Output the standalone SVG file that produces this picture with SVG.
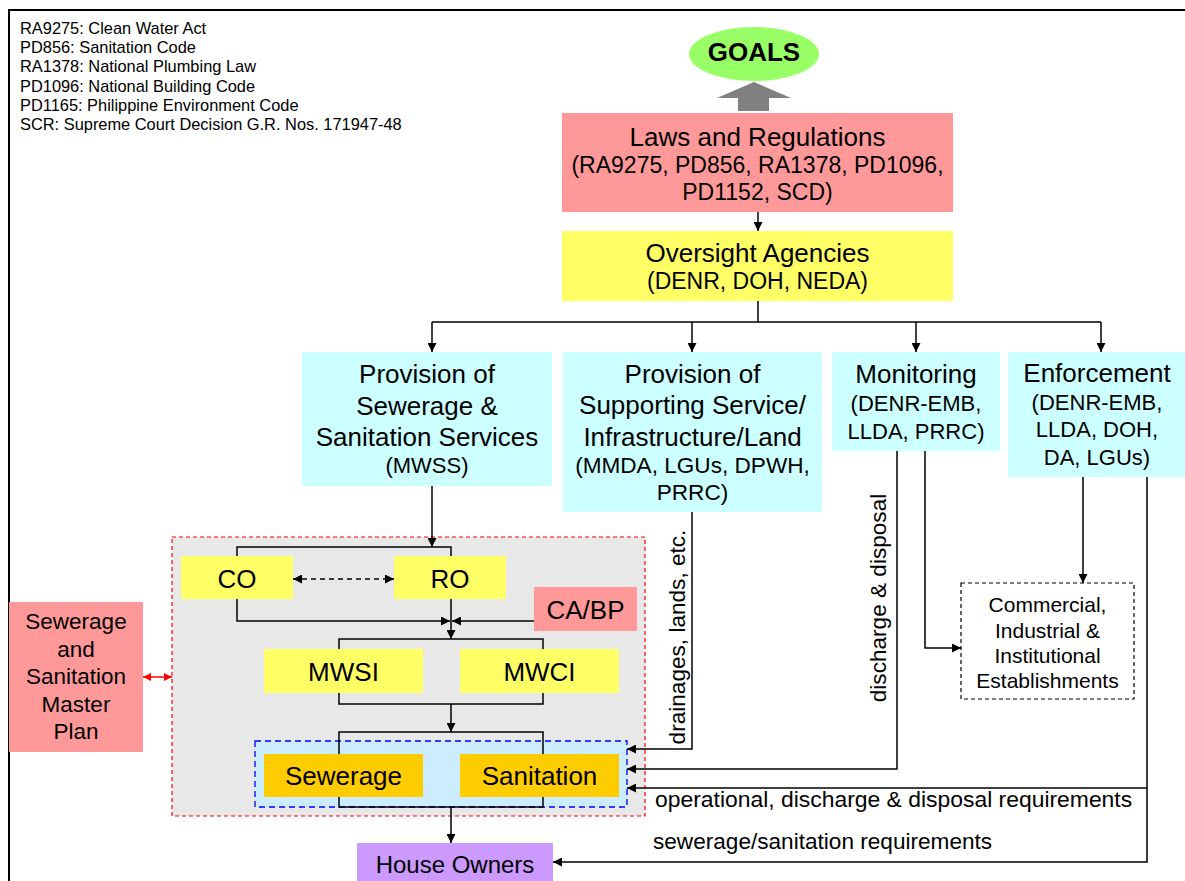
<svg xmlns="http://www.w3.org/2000/svg" width="1185" height="881" viewBox="0 0 1185 881">
<style>
text{font-family:"Liberation Sans",Arial,sans-serif;fill:#000;text-anchor:middle}
.leg{font-size:16.4px;text-anchor:start}
.t26{font-size:26px}
.t23{font-size:23px}
.t22{font-size:22px}
.t21{font-size:21px}
.lab{font-size:22.6px}
.red{fill:#FF9999}
.yel{fill:#FFFF66}
.cyan{fill:#CCFFFF}
.org{fill:#FFCC00}
.ln{fill:none;stroke:#000;stroke-width:1.5}
</style>
<defs>
<marker id="arr" viewBox="0 0 10 10" refX="10" refY="5" markerWidth="9" markerHeight="9" markerUnits="userSpaceOnUse" orient="auto-start-reverse">
<path d="M0,0 L10,5 L0,10 z" fill="#000"/>
</marker>
<marker id="rarr" viewBox="0 0 10 10" refX="10" refY="5" markerWidth="8" markerHeight="8" markerUnits="userSpaceOnUse" orient="auto-start-reverse">
<path d="M0,0 L10,5 L0,10 z" fill="#FF0000"/>
</marker>
</defs>
<rect width="1185" height="881" fill="#fff"/>
<path d="M9,881 V10 H1185" fill="none" stroke="#000" stroke-width="2"/>
<g id="legend">
<text class="leg" x="20" y="34">RA9275: Clean Water Act</text>
<text class="leg" x="20" y="53">PD856: Sanitation Code</text>
<text class="leg" x="20" y="72">RA1378: National Plumbing Law</text>
<text class="leg" x="20" y="92">PD1096: National Building Code</text>
<text class="leg" x="20" y="111">PD1165: Philippine Environment Code</text>
<text class="leg" x="20" y="130">SCR: Supreme Court Decision G.R. Nos. 171947-48</text>
</g>
<g id="goals">
<ellipse cx="754" cy="54" rx="65" ry="27" fill="#99FF66"/>
<text x="754" y="61" style="font-size:26px;font-weight:bold">GOALS</text>
<polygon points="754,82 791,98 769,98 769,111 738,111 738,98 717,98" fill="#808080"/>
</g>
<g id="laws">
<rect class="red" x="562" y="113" width="391" height="99"/>
<text class="t26" x="757.5" y="146">Laws and Regulations</text>
<text class="t23" x="757.5" y="173">(RA9275, PD856, RA1378, PD1096,</text>
<text class="t23" x="757.5" y="200">PD1152, SCD)</text>
</g>
<g id="oversight">
<rect class="yel" x="562" y="231" width="391" height="70"/>
<text class="t26" x="757.5" y="262">Oversight Agencies</text>
<text class="t23" x="757.5" y="289">(DENR, DOH, NEDA)</text>
</g>
<g id="provision-sewerage">
<rect class="cyan" x="302" y="352" width="250" height="134"/>
<text class="t26" x="427" y="383">Provision of</text>
<text class="t26" x="427" y="415">Sewerage &amp;</text>
<text class="t26" x="427" y="446">Sanitation Services</text>
<text class="t22" x="427" y="473">(MWSS)</text>
</g>
<g id="provision-support">
<rect class="cyan" x="563" y="352" width="259" height="160"/>
<text class="t26" x="692.5" y="383">Provision of</text>
<text class="t26" x="692.5" y="414">Supporting Service/</text>
<text class="t26" x="692.5" y="446">Infrastructure/Land</text>
<text class="lab" x="692.5" y="473">(MMDA, LGUs, DPWH,</text>
<text class="lab" x="692.5" y="500">PRRC)</text>
</g>
<g id="monitoring">
<rect class="cyan" x="832" y="352" width="168" height="99"/>
<text class="t26" x="916" y="383">Monitoring</text>
<text class="t22" x="916" y="411">(DENR-EMB,</text>
<text class="t22" x="916" y="439">LLDA, PRRC)</text>
</g>
<g id="enforcement">
<rect class="cyan" x="1008" y="352" width="178" height="125"/>
<text class="t26" x="1097" y="382">Enforcement</text>
<text class="t22" x="1097" y="410">(DENR-EMB,</text>
<text class="t22" x="1097" y="437">LLDA, DOH,</text>
<text class="t22" x="1097" y="465">DA, LGUs)</text>
</g>
<g id="mwss-frame">
<rect x="172" y="537" width="473" height="279" fill="#E8E8E8" stroke="#FF0000" stroke-width="1.2" stroke-dasharray="4,3"/>
</g>
<g id="co">
<rect class="yel" x="181" y="556" width="112" height="43"/>
<text class="t26" x="237" y="588">CO</text>
</g>
<g id="ro">
<rect class="yel" x="394" y="556" width="112" height="43"/>
<text class="t26" x="450" y="588">RO</text>
</g>
<g id="cabp">
<rect class="red" x="534" y="587" width="103" height="44"/>
<text class="t26" x="585.5" y="619">CA/BP</text>
</g>
<g id="mwsi">
<rect class="yel" x="264" y="649" width="159" height="44"/>
<text class="t26" x="343.5" y="681">MWSI</text>
</g>
<g id="mwci">
<rect class="yel" x="460" y="649" width="159" height="44"/>
<text class="t26" x="539.5" y="681">MWCI</text>
</g>
<g id="services-frame">
<rect x="255" y="741" width="372" height="66" fill="#CCECFF" stroke="#0000FF" stroke-width="1.3" stroke-dasharray="6,4"/>
</g>
<g id="sewerage">
<rect class="org" x="264" y="754" width="159" height="43"/>
<text class="t26" x="343.5" y="785">Sewerage</text>
</g>
<g id="sanitation">
<rect class="org" x="460" y="754" width="159" height="43"/>
<text class="t26" x="539.5" y="785">Sanitation</text>
</g>
<g id="master-plan">
<rect class="red" x="9" y="602" width="134" height="150"/>
<text x="76" y="629" style="font-size:22.5px">Sewerage</text>
<text x="76" y="657" style="font-size:22.5px">and</text>
<text x="76" y="684" style="font-size:22.5px">Sanitation</text>
<text x="76" y="712" style="font-size:22.5px">Master</text>
<text x="76" y="739" style="font-size:22.5px">Plan</text>
</g>
<g id="establishments">
<rect x="961" y="583" width="173" height="116" fill="#fff" stroke="#000" stroke-width="1.2" stroke-dasharray="4,3"/>
<text class="t21" x="1047.5" y="612">Commercial,</text>
<text class="t21" x="1047.5" y="638">Industrial &amp;</text>
<text class="t21" x="1047.5" y="663">Institutional</text>
<text class="t21" x="1047.5" y="688">Establishments</text>
</g>
<g id="house-owners">
<rect x="357" y="843" width="196" height="40" fill="#CC99FF"/>
<text x="455" y="873" style="font-size:24px">House Owners</text>
</g>
<g id="connectors">
<path class="ln" d="M758,212 V231" marker-end="url(#arr)"/>
<path class="ln" d="M758,301 V322 M432,322 H1101"/>
<path class="ln" d="M432,322 V352" marker-end="url(#arr)"/>
<path class="ln" d="M692,322 V352" marker-end="url(#arr)"/>
<path class="ln" d="M916,322 V352" marker-end="url(#arr)"/>
<path class="ln" d="M1101,322 V352" marker-end="url(#arr)"/>
<path class="ln" d="M432,486 V547" marker-end="url(#arr)"/>
<path class="ln" d="M237,556 V547 H451 V556"/>
<path class="ln" d="M293,579 H394" stroke-dasharray="5,4" marker-start="url(#arr)" marker-end="url(#arr)"/>
<path class="ln" d="M237,599 V621 H450" marker-end="url(#arr)"/>
<path class="ln" d="M534,621 H452" marker-end="url(#arr)"/>
<path class="ln" d="M451,599 V639" marker-end="url(#arr)"/>
<path class="ln" d="M339,649 V639 H543 V649"/>
<path class="ln" d="M339,693 V704 H543 V693"/>
<path class="ln" d="M451,704 V732" marker-end="url(#arr)"/>
<path class="ln" d="M339,754 V732 H543 V754"/>
<path class="ln" d="M339,797 V807 H543 V797"/>
<path class="ln" d="M451,807 V843" marker-end="url(#arr)"/>
<path d="M143,677 H172" fill="none" stroke="#FF0000" stroke-width="1.5" marker-start="url(#rarr)" marker-end="url(#rarr)"/>
<path class="ln" d="M692,512 V749 H627" marker-end="url(#arr)"/>
<path class="ln" d="M897,451 V769 H627" marker-end="url(#arr)"/>
<path class="ln" d="M925,451 V648 H961" marker-end="url(#arr)"/>
<path class="ln" d="M1083,477 V583" marker-end="url(#arr)"/>
<path class="ln" d="M1147,477 V862 H553" marker-end="url(#arr)"/>
<path class="ln" d="M1147,788 H627" marker-end="url(#arr)"/>
<text class="lab" transform="translate(685,637) rotate(-90)">drainages, lands, etc.</text>
<text class="lab" transform="translate(886,598) rotate(-90)">discharge &amp; disposal</text>
<text x="655" y="807" style="text-anchor:start;font-size:22.9px">operational, discharge &amp; disposal requirements</text>
<text class="lab" x="653" y="849" style="text-anchor:start">sewerage/sanitation requirements</text>
</g>
</svg>
